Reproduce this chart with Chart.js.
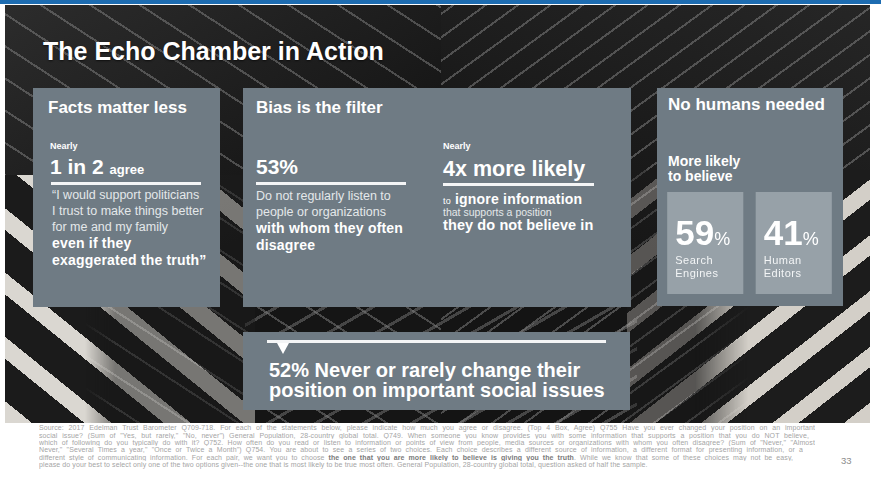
<!DOCTYPE html>
<html lang="en">
<head>
<meta charset="utf-8">
<title>The Echo Chamber in Action</title>
<script src="https://cdn.jsdelivr.net/npm/chart.js@4.4.1/dist/chart.umd.min.js"></script>
<style>
  html, body { margin: 0; padding: 0; }
  body {
    width: 881px; height: 486px; position: relative; overflow: hidden;
    background: #fff; color: #fff;
    font-family: "Liberation Sans", Arial, Helvetica, sans-serif;
  }
  .abs { position: absolute; }
  .t { position: absolute; white-space: nowrap; line-height: 1; }
  .b { font-weight: bold; }
  .soft { color: #e4e8ea; }
  .strong { color: #fff; font-weight: bold; font-size: 14px; letter-spacing: .2px; }

  .topbar { left: 0; top: 0; width: 881px; height: 4px; background: #1d6cb1; }

  /* background photo, built from stripe layers */
  .photo { left: 5px; top: 5px; width: 865px; height: 418px; background: #171717; overflow: hidden; }
  .photo div { position: absolute; }
  .ph-tl {
    left: 0; top: 0; width: 440px; height: 418px;
    background:
      repeating-linear-gradient(33deg, rgba(0,0,0,0) 0 18px, rgba(150,150,150,.42) 18px 20px, rgba(0,0,0,0) 20px 27px),
      linear-gradient(150deg, #2c2c2c 0, #151515 55%);
  }
  .ph-tr {
    left: 436px; top: 0; width: 429px; height: 418px;
    background:
      repeating-linear-gradient(-36deg, rgba(0,0,0,0) 0 12px, rgba(160,160,160,.4) 12px 14px, rgba(0,0,0,0) 14px 19px),
      linear-gradient(200deg, #262626 0, #141414 60%);
  }
  .ph-bl {
    left: 0; top: 170px; width: 250px; height: 248px;
    background: repeating-linear-gradient(39deg, #dad7d1 0 17px, #1b1b1b 17px 50px);
    -webkit-mask-image: linear-gradient(to right, #000 0, #000 32%, rgba(0,0,0,.5) 44%, rgba(0,0,0,.5) 100%);
    mask-image: linear-gradient(to right, #000 0, #000 32%, rgba(0,0,0,.5) 44%, rgba(0,0,0,.5) 100%);
  }
  .ph-bm {
    left: 240px; top: 296px; width: 392px; height: 122px;
    background: repeating-linear-gradient(-30deg, rgba(0,0,0,0) 0 15px, rgba(130,130,130,.45) 15px 18px, rgba(0,0,0,0) 18px 24px);
  }
  .ph-br {
    left: 622px; top: 165px; width: 243px; height: 253px;
    background: repeating-linear-gradient(-38deg, #d3cfc8 0 16px, #1c1c1c 16px 44px);
    -webkit-mask-image: linear-gradient(to right, rgba(0,0,0,.35) 0, rgba(0,0,0,.35) 28%, #000 50%);
    mask-image: linear-gradient(to right, rgba(0,0,0,.35) 0, rgba(0,0,0,.35) 28%, #000 50%);
  }

  .title { left: 43px; top: 39px; font-size: 25px; font-weight: bold; text-shadow: 0 1px 2px rgba(0,0,0,.6); }

  .panel { position: absolute; background: #6f7b84; }
  .rule { position: absolute; height: 3px; background: #f4f5f6; }
  .head { font-size: 17px; font-weight: bold; }
  .nearly { font-size: 9px; font-weight: bold; }

  .tile-label { position: absolute; }
  .tile-label .big { position: absolute; left: 8px; top: 23.4px; font-size: 35px; font-weight: bold; line-height: 1; white-space: nowrap; }
  .tile-label .big span { font-size: 18px; font-weight: normal; }
  .tile-label .name { position: absolute; left: 8px; top: 62.4px; font-size: 11px; line-height: 12.5px; letter-spacing: .5px; color: #f3f5f6; white-space: nowrap; }

  .tri {
    position: absolute; width: 0; height: 0;
    border-left: 6.5px solid transparent; border-right: 6.5px solid transparent;
    border-top: 11px solid #fff;
  }

  .footer { left: 39px; top: 424.1px; font-size: 7px; line-height: 7.45px; color: #a5a5a5; letter-spacing: .1px; }
  .footer div { height: 7.45px; overflow: hidden; text-align: justify; text-align-last: justify; white-space: normal; }
  .footer div.last { text-align: left; text-align-last: left; }
  .footer b { color: #7a7a7a; }
  .pageno { left: 841px; top: 456px; font-size: 9.5px; color: #8c8c8c; line-height: 1; }
</style>
</head>
<body>

<div class="abs topbar"></div>

<div class="abs photo">
  <div class="ph-tl"></div>
  <div class="ph-tr"></div>
  <div class="ph-bm"></div>
  <div class="ph-bl"></div>
  <div class="ph-br"></div>
</div>

<div class="t title">The Echo Chamber in Action</div>

<!-- Facts matter less -->
<div class="panel" style="left:33px; top:88px; width:187px; height:219px;">
  <div class="t head" style="left:15px; top:10.6px;">Facts matter less</div>
  <div class="t nearly" style="left:17px; top:54.4px;">Nearly</div>
  <div class="t b" style="left:17px; top:68.2px; font-size:21px;">1 in 2 <span style="font-size:13px;">agree</span></div>
  <div class="rule" style="left:18px; top:94px; width:150px;"></div>
  <div class="t soft" style="left:19px; top:98.7px; font-size:12.5px; line-height:16px;">“I would support politicians<br>I trust to make things better<br>for me and my family<br><span class="strong">even if they</span><br><span class="strong">exaggerated the truth”</span></div>
</div>

<!-- Bias is the filter -->
<div class="panel" style="left:243px; top:88px; width:388px; height:219px;">
  <div class="t head" style="left:13px; top:10.6px;">Bias is the filter</div>
  <div class="t b" style="left:13px; top:68.2px; font-size:21px;">53%</div>
  <div class="rule" style="left:13px; top:94px; width:150px;"></div>
  <div class="t soft" style="left:13px; top:99.7px; font-size:12.5px; line-height:16px;">Do not regularly listen to<br>people or organizations<br><span class="strong">with whom they often</span><br><span class="strong">disagree</span></div>

  <div class="t nearly" style="left:200px; top:54.4px;">Nearly</div>
  <div class="t b" style="left:200px; top:70.8px; font-size:21.5px;">4x more likely</div>
  <div class="rule" style="left:200px; top:95px; width:151px;"></div>
  <div class="t b" style="left:200px; top:104.1px; font-size:14px; letter-spacing:.2px;"><span style="font-size:9px; font-weight:normal;">to</span> ignore information</div>
  <div class="t soft" style="left:200px; top:119.3px; font-size:10.5px;">that supports a position</div>
  <div class="t b" style="left:200px; top:130.2px; font-size:14.5px; letter-spacing:.1px;">they do not believe in</div>
</div>

<!-- No humans needed -->
<div class="panel" style="left:657px; top:88px; width:186px; height:218px;">
  <div class="t head" style="left:11px; top:7.6px;">No humans needed</div>
  <div class="t b" style="left:11px; top:65.65px; font-size:14px; line-height:15.5px;">More likely<br>to believe</div>
</div>
<canvas id="tiles" width="177" height="102" style="position:absolute; left:661px; top:192px; width:177px; height:102px;"></canvas>

<!-- 52% never change -->
<div class="panel" style="left:243px; top:332px; width:387px; height:78px;">
  <div class="rule" style="left:24px; top:8px; width:339px;"></div>
  <div class="tri" style="left:34px; top:11px;"></div>
  <div class="t b" style="left:26px; top:27.8px; font-size:20px; line-height:20.5px;">52% Never or rarely change their<br>position on important social issues</div>
</div>

<div class="abs footer">
  <div style="width:776px;">Source: 2017 Edelman Trust Barometer Q709-718. For each of the statements below, please indicate how much you agree or disagree. (Top 4 Box, Agree) Q755 Have you ever changed your position on an important</div>
  <div style="width:770px;">social issue? (Sum of "Yes, but rarely," "No, never") General Population, 28-country global total. Q749. When someone you know provides you with some information that supports a position that you do NOT believe,</div>
  <div style="width:776px;">which of following do you typically do with it? Q752. How often do you read or listen to information or points of view from people, media sources or organizations with whom you often disagree? (Sum of "Never," "Almost</div>
  <div style="width:764px;">Never," "Several Times a year," "Once or Twice a Month") Q754. You are about to see a series of two choices. Each choice describes a different source of information, a different format for presenting information, or a</div>
  <div style="width:754px;">different style of communicating information. For each pair, we want you to choose <b>the one that you are more likely to believe is giving you the truth</b>. While we know that some of these choices may not be easy,</div>
  <div class="last" style="width:760px;">please do your best to select only one of the two options given--the one that is most likely to be true most often. General Population, 28-country global total, question asked of half the sample.</div>
</div>
<div class="t pageno">33</div>

<script>
// Tile data for the "No humans needed" panel
const sourceLabels = ['Search Engines', 'Human Editors'];
const believePct = [59, 41];
// each tile frames the whole answer base (the two choices add up to 100%)
const answerBase = [100, 100];

// Builds the HTML labels that sit on top of each tile
function buildTileLabels() {
    return sourceLabels.map((label, i) => {
        const el = document.createElement('div');
        el.className = 'tile-label';
        const big = document.createElement('div');
        big.className = 'big';
        big.innerHTML = believePct[i] + '<span>%</span>';
        const name = document.createElement('div');
        name.className = 'name';
        name.innerHTML = label.split(' ').join('<br>');
        el.appendChild(big);
        el.appendChild(name);
        document.body.appendChild(el);
        return el;
    });
}

const tileLabelEls = buildTileLabels();

// Moves the labels onto the bars once Chart.js has laid them out
const tileLabelPlugin = {
    id: 'tileLabels',
    afterDraw(chart) {
        const canvas = chart.canvas;
        chart.getDatasetMeta(0).data.forEach((bar, i) => {
            const el = tileLabelEls[i];
            el.style.left = (canvas.offsetLeft + bar.x - bar.width / 2) + 'px';
            el.style.top = (canvas.offsetTop + bar.y) + 'px';
            el.style.width = bar.width + 'px';
            el.style.height = (bar.base - bar.y) + 'px';
        });
    }
};

const tileChart = new Chart(document.getElementById('tiles').getContext('2d'), {
    type: 'bar',
    data: {
        labels: sourceLabels,
        datasets: [{
            label: 'More likely to believe',
            data: answerBase,
            backgroundColor: '#97a1a8',
            borderWidth: 0,
            barPercentage: 1,
            categoryPercentage: 0.86
        }]
    },
    options: {
        responsive: false,
        animation: false,
        events: [],
        layout: { padding: 0 },
        plugins: {
            legend: { display: false },
            tooltip: { enabled: false }
        },
        scales: {
            x: { display: false },
            y: { display: false, min: 0, max: 100 }
        }
    },
    plugins: [tileLabelPlugin]
});
</script>
</body>
</html>
